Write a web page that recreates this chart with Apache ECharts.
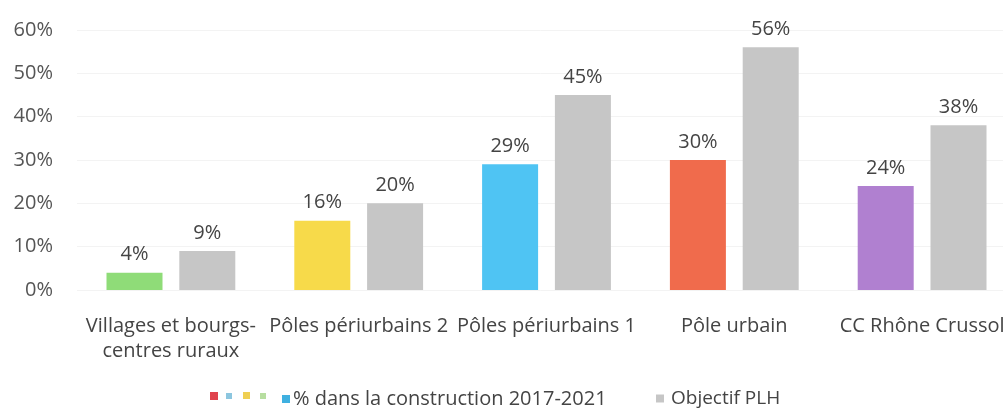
<!DOCTYPE html>
<html>
<head>
<meta charset="utf-8">
<script src="https://cdn.jsdelivr.net/npm/echarts@6/dist/echarts.min.js"></script>
<style>
  html, body { margin: 0; padding: 0; background: #ffffff; }
  #chart { width: 1003px; height: 410px; }
</style>
</head>
<body>
<div id="chart"></div>
<script>
// Territory categories (x axis)
const categories = [
  'Villages et bourgs-\ncentres ruraux',
  'Pôles périurbains 2',
  'Pôles périurbains 1',
  'Pôle urbain',
  'CC Rhône Crussol'
];
// Share in construction 2017-2021 (%)
const partConstruction = [4, 16, 29, 30, 24];
// PLH target (%)
const objectifPLH = [9, 20, 45, 56, 38];
// Y axis ticks
const yMin = 0, yMax = 60, yStep = 10;

const seriesNames = ['% dans la construction 2017-2021', 'Objectif PLH'];
const territoryColors = ['#8fdc78', '#f7da4a', '#4fc4f3', '#f06b4c', '#b080d0'];
const greyColor = '#c6c6c6';
const textColor = '#444444';
const fontFamily = '"Open Sans", "Noto Sans", sans-serif';

const chart = echarts.init(document.getElementById('chart'), null, { renderer: 'canvas' });

const labelStyle = {
  show: true,
  position: 'top',
  distance: 8,
  formatter: '{c}%',
  color: textColor,
  fontSize: 20,
  fontFamily: fontFamily
};

chart.setOption({
  animation: false,
  backgroundColor: '#ffffff',
  textStyle: { fontFamily: fontFamily },
  grid: {
    left: 77,
    right: -13,
    top: 30,
    bottom: 120,
    outerBoundsMode: 'none'
  },
  xAxis: {
    type: 'category',
    data: categories,
    axisLine: { show: false },
    axisTick: { show: false },
    axisLabel: {
      margin: 24,
      color: textColor,
      fontSize: 20,
      lineHeight: 25,
      fontFamily: fontFamily,
      interval: 0
    }
  },
  yAxis: {
    type: 'value',
    min: yMin,
    max: yMax,
    interval: yStep,
    axisLine: { show: false },
    axisTick: { show: false },
    splitLine: { show: true, lineStyle: { color: '#f3f3f3', width: 1 } },
    axisLabel: {
      margin: 24,
      color: '#555555',
      fontSize: 20,
      fontFamily: fontFamily,
      formatter: '{value}%'
    }
  },
  legend: [
    {
      data: [{ name: seriesNames[0], itemStyle: { color: '#3fb0e0' } }],
      left: 277,
      top: 384,
      icon: 'rect',
      itemWidth: 8,
      itemHeight: 8,
      textStyle: { color: textColor, fontSize: 20, fontFamily: fontFamily, padding: [0, 0, 0, -2] }
    },
    {
      data: [{ name: seriesNames[1], itemStyle: { color: greyColor } }],
      left: 651,
      top: 384,
      icon: 'rect',
      itemWidth: 8,
      itemHeight: 8,
      textStyle: { color: textColor, fontSize: 19, fontFamily: fontFamily, padding: [0, 0, 0, 2] }
    }
  ],
  // Extra multi-coloured swatches preceding the first legend entry
  graphic: [
    { type: 'rect', left: 210, top: 392, shape: { width: 8, height: 8 }, style: { fill: '#e0434d' } },
    { type: 'rect', left: 226, top: 393, shape: { width: 6, height: 6 }, style: { fill: '#8cc6df' } },
    { type: 'rect', left: 243, top: 392, shape: { width: 7, height: 7 }, style: { fill: '#efcf52' } },
    { type: 'rect', left: 260, top: 393, shape: { width: 6, height: 6 }, style: { fill: '#b7dea0' } }
  ],
  series: [
    {
      name: seriesNames[0],
      type: 'bar',
      data: partConstruction,
      barWidth: 56,
      barGap: '30%',
      itemStyle: { color: (p) => territoryColors[p.dataIndex] },
      label: labelStyle
    },
    {
      name: seriesNames[1],
      type: 'bar',
      data: objectifPLH,
      barWidth: 56,
      barGap: '30%',
      itemStyle: { color: greyColor },
      label: labelStyle
    }
  ]
});
</script>
</body>
</html>
